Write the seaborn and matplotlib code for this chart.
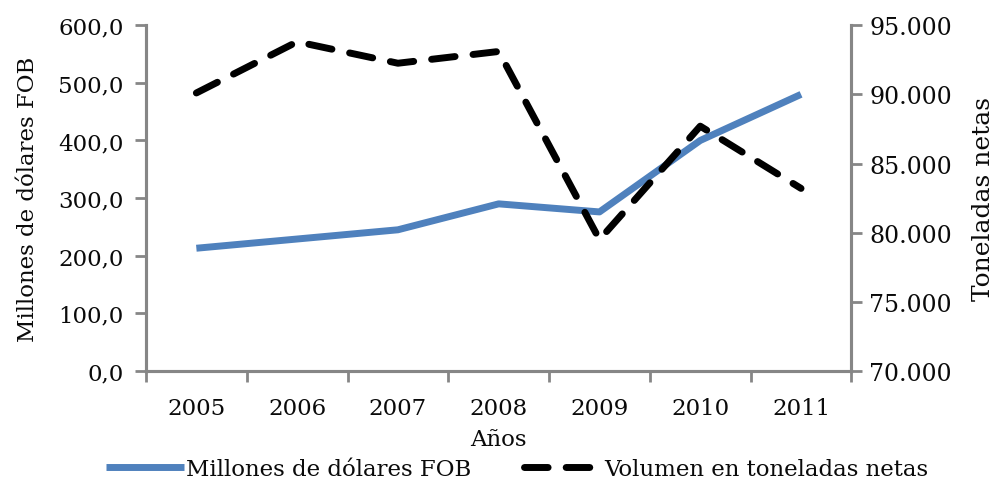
import matplotlib
matplotlib.use("Agg")
import matplotlib.pyplot as plt
from matplotlib.ticker import FuncFormatter, FixedLocator
import seaborn as sns
import pandas as pd
import numpy as np

years = ["2005", "2006", "2007", "2008", "2009", "2010", "2011"]
millones_fob = [213.0, 229.0, 245.0, 290.0, 276.0, 400.0, 480.0]
toneladas = [90100, 93800, 92250, 93100, 79500, 87700, 83200]

sns.set_theme(style="white")
plt.rcParams['font.family'] = ['DejaVu Serif', 'DejaVu Sans']

FS = 16.5
df = pd.DataFrame({"idx": np.arange(len(years)), "fob": millones_fob, "ton": toneladas})

fig = plt.figure(figsize=(9.95, 4.85), dpi=100)
ax = fig.add_axes([0.1467, 0.233, 0.709, 0.713])
ax2 = ax.twinx()

blue = "#4f81bd"
gray = "#868686"
txt = "#0a0a0a"

sns.lineplot(data=df, x="idx", y="fob", ax=ax, color=blue, linewidth=5,
             solid_capstyle="butt", label="Millones de dólares FOB", legend=False)
sns.lineplot(data=df, x="idx", y="ton", ax=ax2, color="black", linewidth=5,
             dashes=False, label="Volumen en toneladas netas", legend=False)
l2 = ax2.get_lines()[0]
l2.set_dashes([3.4, 2.6])
l2.set_dash_capstyle("round")

ax.set_xlim(-0.5, len(years) - 0.5)
ax.set_ylim(0, 600)
ax2.set_ylim(70000, 95000)
ax.set_yticks(np.arange(0, 601, 100))
ax2.set_yticks(np.arange(70000, 95001, 5000))

ax.yaxis.set_major_formatter(FuncFormatter(lambda v, p: f"{v:.1f}".replace(".", ",")))
ax2.yaxis.set_major_formatter(FuncFormatter(lambda v, p: f"{int(v):,}".replace(",", ".")))

ax.xaxis.set_major_locator(FixedLocator(np.arange(-0.5, len(years), 1.0)))
ax.xaxis.set_major_formatter(FuncFormatter(lambda v, p: ""))
ax.xaxis.set_minor_locator(FixedLocator(np.arange(len(years))))
ax.set_xticklabels(years, minor=True)
ax.tick_params(axis="x", which="major", length=8, width=2, color=gray, direction="out", bottom=True)
ax.tick_params(axis="x", which="minor", length=0, pad=19, labelsize=FS, labelcolor=txt)

ax.tick_params(axis="y", length=8, width=2, color=gray, direction="out", left=True, labelsize=FS, pad=8, labelcolor=txt)
ax2.tick_params(axis="y", length=8, width=2, color=gray, direction="out", right=True, labelsize=17, pad=5, labelcolor=txt)

for a in (ax, ax2):
    a.spines["top"].set_visible(False)
    for s in ("left", "right", "bottom"):
        a.spines[s].set_color(gray)
        a.spines[s].set_linewidth(2.2)
    a.grid(False)

ax.set_xlabel("Años", fontsize=FS, labelpad=6, color=txt)
ax.set_ylabel("Millones de dólares FOB", fontsize=FS, labelpad=14, color=txt)
ax2.set_ylabel("Toneladas netas", fontsize=18, labelpad=14, color=txt)

h1, lab1 = ax.get_legend_handles_labels()
h2, lab2 = ax2.get_legend_handles_labels()
leg = fig.legend(h1 + h2, lab1 + lab2, loc="lower center", bbox_to_anchor=(0.52, -0.035),
                 ncol=2, frameon=False, handlelength=3.4, columnspacing=2.3, handletextpad=0.1,
                 prop={"size": FS})
for t in leg.get_texts():
    t.set_color(txt)

fig.savefig("out.png", dpi=100)
